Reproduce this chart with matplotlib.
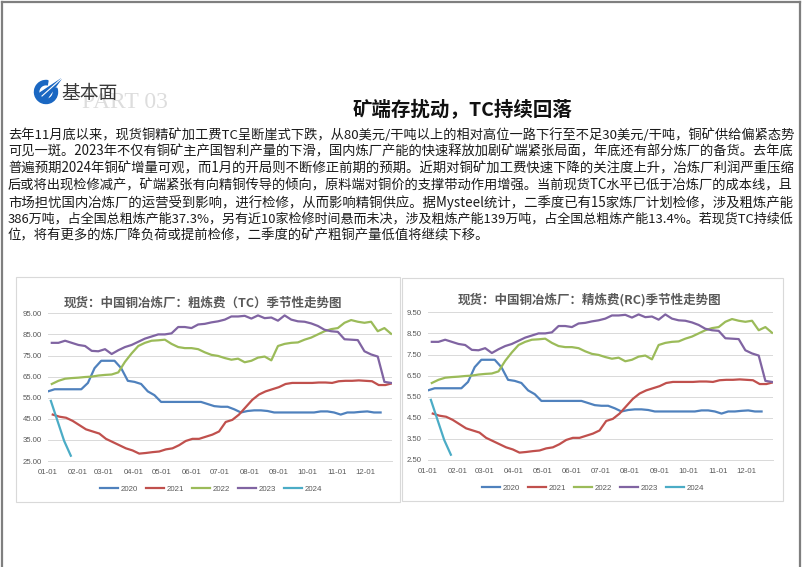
import numpy as np
import pandas as pd
import matplotlib
matplotlib.use('Agg')
import matplotlib.pyplot as plt
from matplotlib.patches import Rectangle, Wedge, Polygon

plt.rcParams['font.family'] = ['Noto Sans CJK SC', 'DejaVu Sans']

# ---- data -------------------------------------------------------------
years = ['2020', '2021', '2022', '2023', '2024']
start_day = [0, 5, 4, 4, 3]          # day of year of the first weekly quote

tc_2020 = [58, 59, 59, 59, 59, 59, 62, 69, 72.5, 72.5, 72.5, 69, 63, 62.5, 61.5, 58, 56.2, 53,
           53, 53, 53, 53, 53, 53, 52, 51, 50.7, 50.7, 49.5, 48, 48.7, 49, 49, 48.7, 48, 48,
           48, 48, 48, 48, 48, 48.5, 48.5, 48, 47, 48, 48, 48.3, 48.5, 48, 48]
tc_2021 = [47, 46, 45.5, 44, 42, 40, 39, 38, 35.5, 34, 32.5, 31, 30, 28.5, 28.8, 29.2, 29.5,
           30.5, 31, 32.5, 34.5, 35.5, 35.5, 36.5, 37.5, 39, 43.5, 44.5, 47, 50.5, 54, 56.5,
           58, 59, 60, 61.5, 62, 62, 62, 62, 62.2, 62.2, 62, 62.8, 63, 63, 63.2, 63, 62.8,
           61, 61, 61.8]
tc_2022 = [61.5, 63, 64, 64.3, 64.5, 64.8, 65, 65.5, 65.8, 66, 67, 72, 76, 79.5, 81, 82, 82.2,
           82.5, 80.5, 79, 78.5, 78.5, 78, 76.5, 75.3, 74.8, 73.8, 73, 73.5, 71.8, 72.5, 74,
           74.5, 72.7, 79.5, 80.5, 81, 81.2, 82.5, 83.5, 85, 86.5, 87.5, 88, 90.5, 91.8, 91,
           90.5, 91, 86.5, 88, 85.3]
tc_2023 = [81, 81, 82, 81, 80, 79.5, 77.2, 77, 78, 75.7, 77.5, 79, 80, 81.5, 83, 84, 85, 85,
           85.5, 88.5, 88.5, 88, 89.7, 90, 90.7, 91.2, 92, 93.5, 93.5, 93.8, 92.5, 94, 92.7,
           93, 91.5, 94, 92, 91.2, 91, 90.2, 89, 87.2, 86.5, 86.2, 82.7, 82.5, 82.3, 77, 75.5,
           74.5, 62.5, 62]
tc_2024 = [53.5, 44, 34.5, 27.5]

rc_2020 = [5.8, 5.9, 5.9, 5.9, 5.9, 5.9, 6.2, 6.9, 7.25, 7.25, 7.25, 6.9, 6.3, 6.25, 6.15, 5.8,
           5.62, 5.3, 5.3, 5.3, 5.3, 5.3, 5.3, 5.3, 5.2, 5.1, 5.07, 5.07, 4.95, 4.8, 4.87, 4.9,
           4.9, 4.87, 4.8, 4.8, 4.8, 4.8, 4.8, 4.8, 4.8, 4.85, 4.85, 4.8, 4.7, 4.8, 4.8, 4.83,
           4.85, 4.8, 4.8]
rc_2021 = [4.7, 4.6, 4.55, 4.4, 4.2, 4.0, 3.9, 3.8, 3.55, 3.4, 3.25, 3.1, 3.0, 2.85, 2.88,
           2.92, 2.95, 3.05, 3.1, 3.25, 3.45, 3.55, 3.55, 3.65, 3.75, 3.9, 4.35, 4.45, 4.7,
           5.05, 5.4, 5.65, 5.8, 5.9, 6.0, 6.15, 6.2, 6.2, 6.2, 6.2, 6.22, 6.22, 6.2, 6.28,
           6.3, 6.3, 6.32, 6.3, 6.28, 6.1, 6.1, 6.18]
rc_2022 = [6.15, 6.3, 6.4, 6.43, 6.45, 6.48, 6.5, 6.55, 6.58, 6.6, 6.7, 7.2, 7.6, 7.95, 8.1,
           8.2, 8.22, 8.25, 8.05, 7.9, 7.85, 7.85, 7.8, 7.65, 7.53, 7.48, 7.38, 7.3, 7.35,
           7.18, 7.25, 7.4, 7.45, 7.27, 7.95, 8.05, 8.1, 8.12, 8.25, 8.35, 8.5, 8.65, 8.75,
           8.8, 9.05, 9.18, 9.1, 9.05, 9.1, 8.65, 8.8, 8.53]
rc_2023 = [8.1, 8.1, 8.2, 8.1, 8.0, 7.95, 7.72, 7.7, 7.8, 7.57, 7.75, 7.9, 8.0, 8.15, 8.3,
           8.4, 8.5, 8.5, 8.55, 8.85, 8.85, 8.8, 8.97, 9.0, 9.07, 9.12, 9.2, 9.35, 9.35, 9.38,
           9.25, 9.4, 9.27, 9.3, 9.15, 9.4, 9.2, 9.12, 9.1, 9.02, 8.9, 8.72, 8.65, 8.62, 8.27,
           8.25, 8.23, 7.7, 7.55, 7.45, 6.25, 6.2]
rc_2024 = [5.35, 4.4, 3.45, 2.75]

tc_series = [tc_2020, tc_2021, tc_2022, tc_2023, tc_2024]
rc_series = [rc_2020, rc_2021, rc_2022, rc_2023, rc_2024]

tc_yticks = [25, 35, 45, 55, 65, 75, 85, 95]
rc_yticks = [2.5, 3.5, 4.5, 5.5, 6.5, 7.5, 8.5, 9.5]

month_starts = pd.date_range('2021-01-01', periods=12, freq='MS')
month_days = month_starts.dayofyear - 1
month_labels = month_starts.strftime('%m-%d')

colors = ['#4F81BD', '#C0504D', '#9BBB59', '#8064A2', '#4BACC6']

para = [
    '去年11月底以来，现货铜精矿加工费TC呈断崖式下跌，从80美元/干吨以上的相对高位一路下行至不足30美元/干吨，铜矿供给偏紧态势',
    '可见一斑。2023年不仅有铜矿主产国智利产量的下滑，国内炼厂产能的快速释放加剧矿端紧张局面，年底还有部分炼厂的备货。去年底',
    '普遍预期2024年铜矿增量可观，而1月的开局则不断修正前期的预期。近期对铜矿加工费快速下降的关注度上升，冶炼厂利润严重压缩',
    '后或将出现检修减产，矿端紧张有向精铜传导的倾向，原料端对铜价的支撑带动作用增强。当前现货TC水平已低于冶炼厂的成本线，且',
    '市场担忧国内冶炼厂的运营受到影响，进行检修，从而影响精铜供应。据Mysteel统计，二季度已有15家炼厂计划检修，涉及粗炼产能',
    '386万吨，占全国总粗炼产能37.3%，另有近10家检修时间悬而未决，涉及粗炼产能139万吨，占全国总粗炼产能13.4%。若现货TC持续低',
    '位，将有更多的炼厂降负荷或提前检修，二季度的矿产粗铜产量低值将继续下移。',
]

# ---- figure -----------------------------------------------------------
W, H = 802, 567
fig = plt.figure(figsize=(W / 100, H / 100), dpi=100)
fig.patch.set_facecolor('white')

bg = fig.add_axes([0, 0, 1, 1])
bg.set_xlim(0, W)
bg.set_ylim(H, 0)
bg.axis('off')

# slide border
bg.plot([1.5, 1.5], [H, 1.5], color='#7f7f7f', lw=1.6)
bg.plot([1.5, 800], [1.5, 1.5], color='#7f7f7f', lw=1.6)
bg.plot([800, 800], [1.5, H], color='#7f7f7f', lw=1.6)

# logo
bg.add_patch(Wedge((46, 92), 11.5, -20, 280, width=4.2, color='#1a67c2', zorder=3))
bg.add_patch(Polygon([(37, 95), (61, 79), (46, 100)], closed=True, color='#1a67c2', zorder=4))
bg.plot([61, 42], [79, 96], color='white', lw=0.8, zorder=5)
bg.text(45, 99.5, 'AVIC', fontsize=2.6, color='#1a67c2', ha='center', va='center',
        fontweight='bold', zorder=5)

bg.text(82, 103, 'PART 03', fontsize=17, color='#dddddd', family='Liberation Serif',
        ha='left', va='center', zorder=1)
bg.text(61, 93, '基本面', fontsize=13.5, color='#3a3a3a', ha='left', va='center', zorder=2)

bg.text(462, 110, '矿端存扰动，TC持续回落', fontsize=14, fontweight='bold', color='#111111',
        ha='center', va='center')

# paragraph, justified lines
renderer = fig.canvas.get_renderer()
fs = 9.6
for i, line in enumerate(para):
    t = bg.text(8, 135 + i * 16.8, line, fontsize=fs, color='#1a1a1a', ha='left', va='center')
    if i < len(para) - 1:
        w = t.get_window_extent(renderer).width
        t.set_fontsize(fs * min(max(787 / w, 0.9), 1.1))

# chart frames
bg.add_patch(Rectangle((16, 277), 384, 225, fill=False, edgecolor='#d9d9d9', lw=0.8))
bg.add_patch(Rectangle((402, 278), 381, 223, fill=False, edgecolor='#d9d9d9', lw=0.8))


def px_axes(x0, y0, x1, y1):
    return fig.add_axes([x0 / W, 1 - y1 / H, (x1 - x0) / W, (y1 - y0) / H])


def draw_chart(ax, series, yticks, fmt, title, title_xy, legend_xy):
    ax.set_facecolor('none')
    for name, vals, s0, c in zip(years, series, start_day, colors):
        x = s0 + 7 * np.arange(len(vals))
        ax.plot(x, vals, color=c, lw=1.6, label=name, solid_joinstyle='round')
    ax.set_xlim(0, 362)
    ax.set_ylim(yticks[0], yticks[-1])
    ax.set_yticks(yticks)
    ax.set_yticklabels([fmt.format(v) for v in yticks])
    ax.set_xticks(month_days)
    ax.set_xticklabels(month_labels)
    ax.tick_params(length=0, labelsize=5.6, labelcolor='#595959', pad=4.5)
    ax.tick_params(axis='x', pad=6)
    for lab in ax.get_xticklabels() + ax.get_yticklabels():
        lab.set_family('Liberation Sans')
    ax.grid(axis='y', color='#d9d9d9', lw=0.7)
    ax.set_axisbelow(True)
    for sp in ['top', 'right', 'left']:
        ax.spines[sp].set_visible(False)
    ax.spines['bottom'].set_color('#d9d9d9')
    ax.spines['bottom'].set_linewidth(0.7)
    bg.text(title_xy[0], title_xy[1], title, fontsize=9, fontweight='bold', color='#595959',
            ha='center', va='center')
    leg = ax.legend(loc='center', bbox_to_anchor=legend_xy, bbox_transform=bg.transData,
                    ncol=5, frameon=False, fontsize=5.7, handlelength=2.3,
                    handletextpad=0.3, columnspacing=1.0,
                    prop={'family': 'Liberation Sans', 'size': 5.7})
    for txt in leg.get_texts():
        txt.set_color('#595959')


ax1 = px_axes(48, 313.3, 392, 461)
draw_chart(ax1, tc_series, tc_yticks, '{:.2f}', '现货：中国铜冶炼厂：粗炼费（TC）季节性走势图',
           (203, 303), (211, 489))

ax2 = px_axes(428, 312.3, 773, 460)
draw_chart(ax2, rc_series, rc_yticks, '{:.2f}', '现货：中国铜冶炼厂：精炼费(RC)季节性走势图',
           (590, 300), (593, 488))

fig.savefig('out.png', dpi=100)
